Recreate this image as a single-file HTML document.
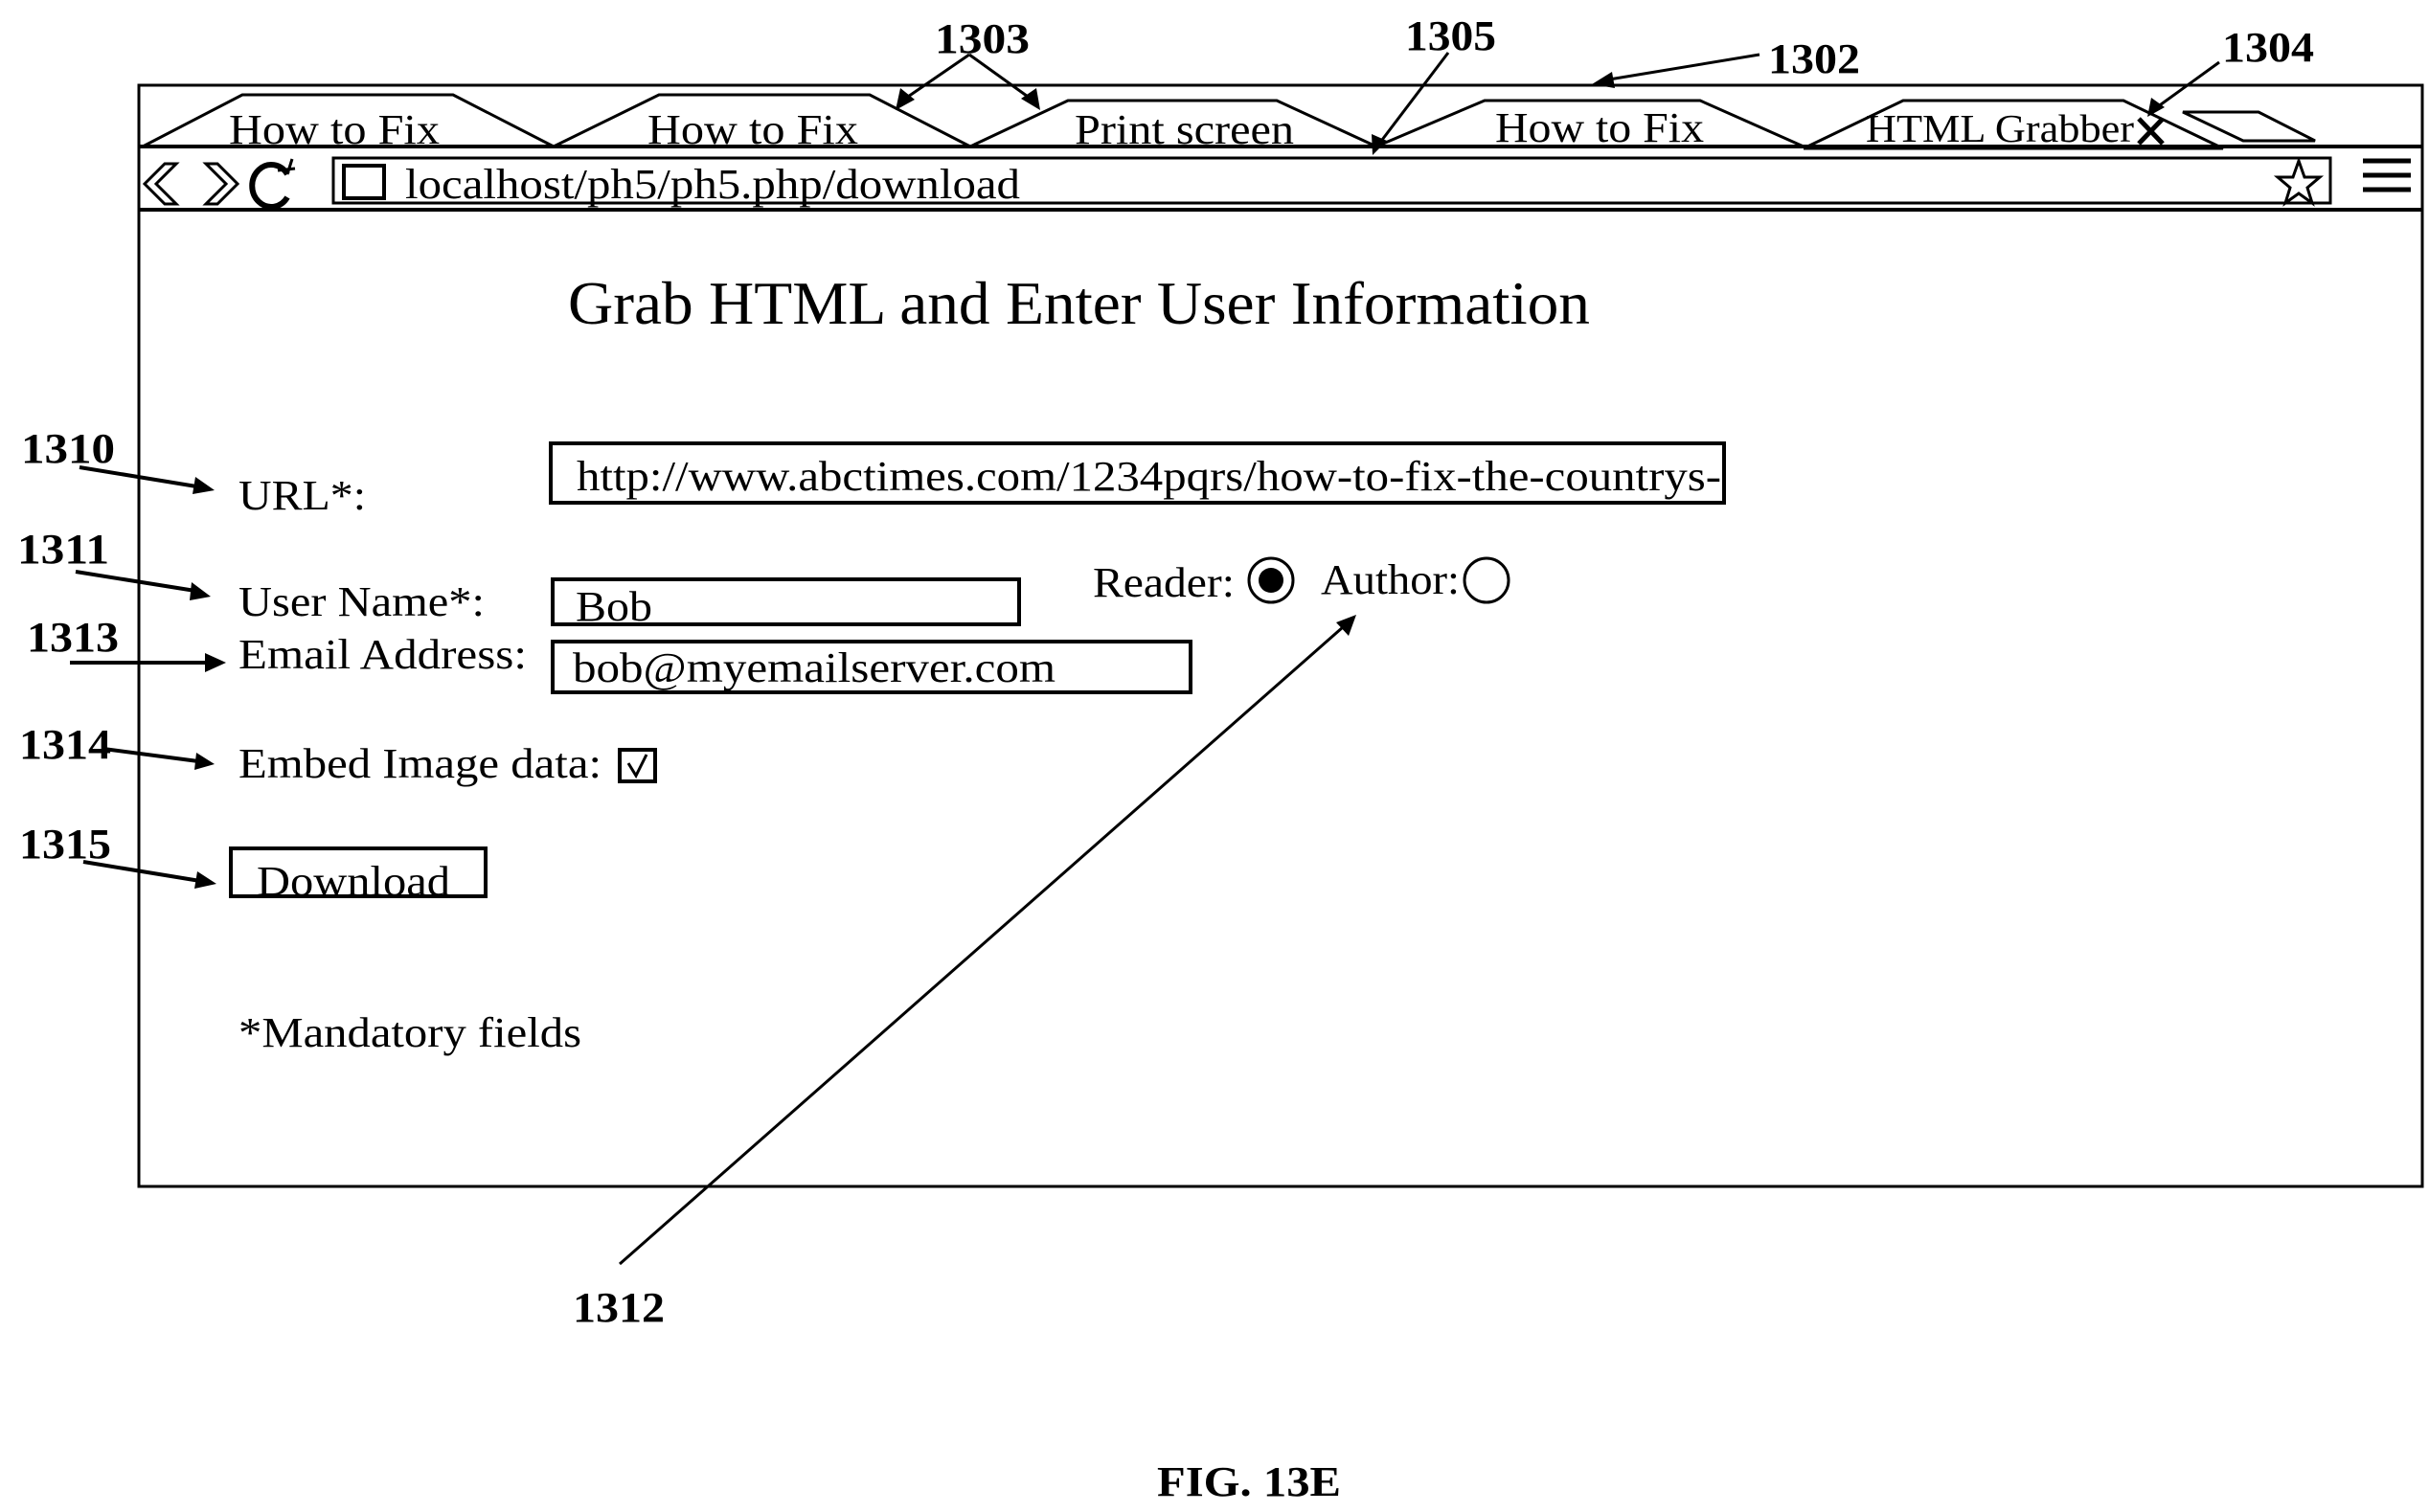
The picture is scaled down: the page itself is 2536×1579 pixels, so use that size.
<!DOCTYPE html>
<html><head><meta charset="utf-8"><style>
html,body{margin:0;padding:0;background:#fff;}
svg{display:block;}
text{font-family:"Liberation Serif",serif;fill:#000;}
.b{font-weight:bold;}
</style></head><body>
<svg width="2536" height="1579" viewBox="0 0 2536 1579" xmlns="http://www.w3.org/2000/svg">
<g fill="none" stroke="#000" stroke-width="3">
<rect x="145" y="89" width="2384" height="1150"/>
<line x1="145" y1="153" x2="2529" y2="153" stroke-width="4"/>
<line x1="145" y1="219" x2="2529" y2="219" stroke-width="4"/>
<polyline points="149,153 253,99 473,99 578,153"/>
<polyline points="578,153 688,99 908,99 1013,153"/>
<polyline points="1013,153 1115,105 1333,105 1437,153"/>
<polyline points="1437,153 1550,105 1775,105 1883,153"/>
<polyline points="1883,155 1987,105 2217,105 2321,155 1883,155"/>
<polygon points="2279,117 2358,117 2417,147 2342,147"/>
<rect x="348" y="165" width="2085" height="47"/>
<rect x="359" y="173" width="42" height="34" stroke-width="4"/>
<polygon points="172,171 184,171 163,192 184,213 172,213 151,192"/>
<polygon points="215,171 227,171 248,192 227,213 215,213 236,192"/>
<path d="M300,182 A20,22 0 1 0 300,206" stroke-width="6"/>
<path d="M300,182 L305,166 M290,178 L308,176" stroke-width="3"/>
<polygon points="2400,168 2406,185 2422,185 2409,196 2414,212 2400,202 2386,212 2391,196 2378,185 2394,185"/>
<line x1="2467" y1="168" x2="2517" y2="168" stroke-width="5"/>
<line x1="2467" y1="183" x2="2517" y2="183" stroke-width="5"/>
<line x1="2467" y1="198" x2="2517" y2="198" stroke-width="5"/>
<line x1="2233" y1="124" x2="2258" y2="150" stroke-width="5"/>
<line x1="2258" y1="124" x2="2233" y2="150" stroke-width="5"/>
<rect x="575" y="463" width="1225" height="62" stroke-width="4"/>
<rect x="577" y="605" width="487" height="47" stroke-width="4"/>
<rect x="577" y="670" width="666" height="53" stroke-width="4"/>
<rect x="647" y="783" width="37" height="33" stroke-width="4"/>
<polyline points="656,797 664,810 675,788" stroke-width="3"/>
<rect x="241" y="886" width="266" height="50" stroke-width="4"/>
<circle cx="1327" cy="606" r="23"/>
<circle cx="1552" cy="606" r="23"/>
</g>
<circle cx="1327" cy="606" r="13" fill="#000"/>
<g stroke="#000" stroke-width="3" fill="none">
<line x1="1012" y1="57" x2="945" y2="103"/>
<line x1="1012" y1="57" x2="1076" y2="103"/>
<line x1="1512" y1="55" x2="1440" y2="150"/>
<line x1="1837" y1="57" x2="1680" y2="83"/>
<line x1="2317" y1="65" x2="2252" y2="112"/>
<line x1="83" y1="488" x2="205" y2="508" stroke-width="4"/>
<line x1="79" y1="597" x2="204" y2="617" stroke-width="4"/>
<line x1="73" y1="692" x2="218" y2="692" stroke-width="4"/>
<line x1="108" y1="782" x2="207" y2="795" stroke-width="4"/>
<line x1="87" y1="900" x2="209" y2="920" stroke-width="4"/>
<line x1="647" y1="1320" x2="1402" y2="655"/>
</g>
<g fill="#000">
<polygon points="935,115 940,92 955,104"/>
<polygon points="1086,115 1066,103 1082,92"/>
<polygon points="1433,162 1432,140 1448,147"/>
<polygon points="1662,88 1683,75 1686,92"/>
<polygon points="2242,122 2246,102 2260,112"/>
<polygon points="224,512 204,498 201,516"/>
<polygon points="220,623 200,608 198,627"/>
<polygon points="236,692 214,682 214,702"/>
<polygon points="224,798 205,786 203,804"/>
<polygon points="226,923 206,910 203,928"/>
<polygon points="1416,642 1395,650 1408,664"/>
</g>
<g lengthAdjust="spacingAndGlyphs">
<text x="239" y="150" font-size="44" textLength="220" lengthAdjust="spacingAndGlyphs">How to Fix</text>
<text x="676" y="150" font-size="44" textLength="220" lengthAdjust="spacingAndGlyphs">How to Fix</text>
<text x="1122" y="150" font-size="44" textLength="229" lengthAdjust="spacingAndGlyphs">Print screen</text>
<text x="1561" y="148" font-size="44" textLength="218" lengthAdjust="spacingAndGlyphs">How to Fix</text>
<text x="1948" y="148" font-size="41" textLength="280" lengthAdjust="spacingAndGlyphs">HTML Grabber</text>
<text x="423" y="207" font-size="44" textLength="642" lengthAdjust="spacingAndGlyphs">localhost/ph5/ph5.php/download</text>
<text class="b" x="976" y="55" font-size="44" textLength="99" lengthAdjust="spacingAndGlyphs">1303</text>
<text class="b" x="1467" y="52" font-size="44" textLength="95" lengthAdjust="spacingAndGlyphs">1305</text>
<text class="b" x="1846" y="76" font-size="44" textLength="96" lengthAdjust="spacingAndGlyphs">1302</text>
<text class="b" x="2320" y="64" font-size="44" textLength="96" lengthAdjust="spacingAndGlyphs">1304</text>
<text class="b" x="22" y="483" font-size="44" textLength="98" lengthAdjust="spacingAndGlyphs">1310</text>
<text class="b" x="18" y="588" font-size="44" textLength="96" lengthAdjust="spacingAndGlyphs">1311</text>
<text class="b" x="28" y="680" font-size="44" textLength="96" lengthAdjust="spacingAndGlyphs">1313</text>
<text class="b" x="20" y="792" font-size="44" textLength="96" lengthAdjust="spacingAndGlyphs">1314</text>
<text class="b" x="20" y="896" font-size="44" textLength="96" lengthAdjust="spacingAndGlyphs">1315</text>
<text class="b" x="598" y="1380" font-size="44" textLength="96" lengthAdjust="spacingAndGlyphs">1312</text>
<text class="b" x="1208" y="1562" font-size="44" textLength="192" lengthAdjust="spacingAndGlyphs">FIG. 13E</text>
<text x="593" y="338" font-size="63" textLength="1067" lengthAdjust="spacingAndGlyphs">Grab HTML and Enter User Information</text>
<text x="249" y="532" font-size="44" textLength="133" lengthAdjust="spacingAndGlyphs">URL*:</text>
<text x="602" y="512" font-size="44" textLength="1195" lengthAdjust="spacingAndGlyphs">http://www.abctimes.com/1234pqrs/how-to-fix-the-countrys-</text>
<text x="249" y="643" font-size="44" textLength="257" lengthAdjust="spacingAndGlyphs">User Name*:</text>
<text x="601" y="648" font-size="44" textLength="80" lengthAdjust="spacingAndGlyphs">Bob</text>
<text x="249" y="698" font-size="44" textLength="301" lengthAdjust="spacingAndGlyphs">Email Address:</text>
<text x="598" y="712" font-size="44" textLength="504" lengthAdjust="spacingAndGlyphs">bob@myemailserver.com</text>
<text x="1141" y="623" font-size="44" textLength="148" lengthAdjust="spacingAndGlyphs">Reader:</text>
<text x="1379" y="620" font-size="44" textLength="145" lengthAdjust="spacingAndGlyphs">Author:</text>
<text x="249" y="812" font-size="44" textLength="379" lengthAdjust="spacingAndGlyphs">Embed Image data:</text>
<text x="268" y="935" font-size="44" textLength="202" lengthAdjust="spacingAndGlyphs">Download</text>
<text x="249" y="1093" font-size="44" textLength="358" lengthAdjust="spacingAndGlyphs">*Mandatory fields</text>
</g>
</svg>
</body></html>
